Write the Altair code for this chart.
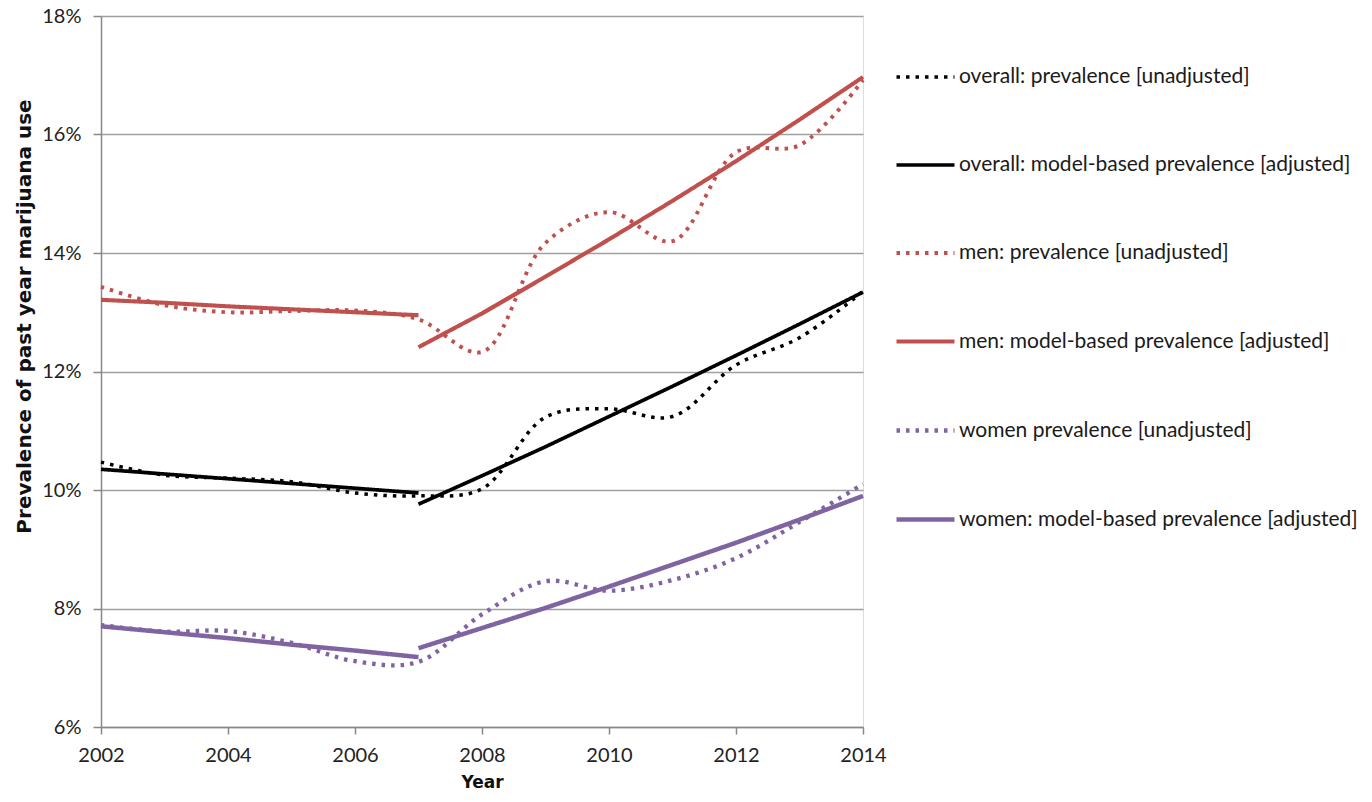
import altair as alt
import pandas as pd

years = list(range(2002, 2015))
seg1_years = [2002, 2003, 2004, 2005, 2006, 2007]
seg2_years = [2007, 2008, 2009, 2010, 2011, 2012, 2013, 2014]

series_names = [
    "overall: prevalence [unadjusted]",
    "overall: model-based prevalence [adjusted]",
    "men: prevalence [unadjusted]",
    "men: model-based prevalence [adjusted]",
    "women prevalence [unadjusted]",
    "women: model-based prevalence [adjusted]",
]
series_colors = ["#000000", "#000000", "#C0504D", "#C0504D", "#8064A2", "#8064A2"]
series_dash = [[3.5, 6], [1, 0], [3.5, 6], [1, 0], [3.5, 6], [1, 0]]
series_width = [3.5, 4.5, 3.5, 4.5, 3.5, 4.5]

# unadjusted prevalence (%) per year
overall_unadj = [10.47, 10.25, 10.20, 10.14, 9.95, 9.90, 10.02, 11.23, 11.37, 11.24, 12.11, 12.57, 13.35]
men_unadj = [13.43, 13.12, 13.00, 13.02, 13.03, 12.88, 12.33, 14.17, 14.69, 14.20, 15.70, 15.82, 16.92]
women_unadj = [7.72, 7.61, 7.62, 7.42, 7.11, 7.10, 7.90, 8.46, 8.30, 8.48, 8.85, 9.46, 10.10]

# model-based prevalence (%), two segments split at 2007
overall_adj_1 = [10.35, 10.27, 10.19, 10.11, 10.03, 9.95]
overall_adj_2 = [9.76, 10.24, 10.73, 11.24, 11.75, 12.27, 12.80, 13.34]
men_adj_1 = [13.21, 13.16, 13.10, 13.05, 13.00, 12.95]
men_adj_2 = [12.41, 12.98, 13.60, 14.23, 14.88, 15.55, 16.25, 16.97]
women_adj_1 = [7.70, 7.60, 7.50, 7.39, 7.29, 7.18]
women_adj_2 = [7.33, 7.67, 8.01, 8.37, 8.74, 9.11, 9.50, 9.90]

rows = []
def add(name, seg, xs, ys):
    for x, y in zip(xs, ys):
        rows.append({"series": name, "seg": seg, "year": x, "value": y})

add(series_names[0], "a", years, overall_unadj)
add(series_names[2], "a", years, men_unadj)
add(series_names[4], "a", years, women_unadj)
add(series_names[1], "a", seg1_years, overall_adj_1)
add(series_names[1], "b", seg2_years, overall_adj_2)
add(series_names[3], "a", seg1_years, men_adj_1)
add(series_names[3], "b", seg2_years, men_adj_2)
add(series_names[5], "a", seg1_years, women_adj_1)
add(series_names[5], "b", seg2_years, women_adj_2)

df = pd.DataFrame(rows)
unadj_df = df[df["series"].str.contains("unadjusted")]
adj_df = df[~df["series"].str.contains("unadjusted")]

FONT = "Lato"
TITLE_FONT = "DejaVu Sans"

legend = alt.Legend(
    orient="none", legendX=793, legendY=30, title=None,
    symbolType="stroke", symbolSize=3364, labelFont=FONT, labelFontSize=21,
    labelColor="#1a1a1a", rowPadding=47, labelOffset=2, labelLimit=600,
)

color = alt.Color("series:N", scale=alt.Scale(domain=series_names, range=series_colors), legend=legend)
dash = alt.StrokeDash("series:N", scale=alt.Scale(domain=series_names, range=series_dash), legend=legend)
width = alt.StrokeWidth("series:N", scale=alt.Scale(domain=series_names, range=series_width), legend=legend)

x = alt.X("year:Q", scale=alt.Scale(domain=[2002, 2014], nice=False),
          axis=alt.Axis(values=list(range(2002, 2015, 2)), format="d", title="Year",
                        grid=False, tickSize=7, labelPadding=11, titlePadding=9, labelFlush=False,
                        labelFont=FONT, labelFontSize=20, labelColor="#222222",
                        titleFont=TITLE_FONT, titleFontSize=17, titleFontWeight="bold", titleColor="#111111",
                        domainColor="#888888", tickColor="#888888", domainWidth=1.5, tickWidth=1.5))
y = alt.Y("value:Q", scale=alt.Scale(domain=[6, 18], nice=False),
          axis=alt.Axis(values=list(range(6, 19, 2)), labelExpr="datum.value + '%'",
                        title="Prevalence of past year marijuana use", labelFlush=False,
                        grid=True, gridColor="#a0a0a0", gridWidth=1.5,
                        tickSize=8, labelPadding=12,
                        labelFont=FONT, labelFontSize=20, labelColor="#222222",
                        titleFont=TITLE_FONT, titleFontSize=20, titleFontWeight="bold", titleColor="#111111",
                        titleX=-77, titleY=300, titleAngle=270, titleAlign="center", titleBaseline="middle",
                        domainColor="#888888", tickColor="#888888", domainWidth=1.5, tickWidth=1.5))

unadj = alt.Chart(unadj_df).mark_line(interpolate="catmull-rom").encode(
    x=x, y=y, color=color, strokeDash=dash, strokeWidth=width, detail="seg:N")
adj = alt.Chart(adj_df).mark_line().encode(
    x=x, y=y, color=color, strokeDash=dash, strokeWidth=width, detail="seg:N")

chart = alt.layer(unadj, adj).properties(
    width=762, height=711,
    autosize=alt.AutoSizeParams(type="none"),
    padding={"left": 93, "top": 8, "right": 500, "bottom": 67},
).configure_view(stroke=None).configure(background="white")

chart.save("out.html", embed_options={"renderer": "svg", "actions": False})
